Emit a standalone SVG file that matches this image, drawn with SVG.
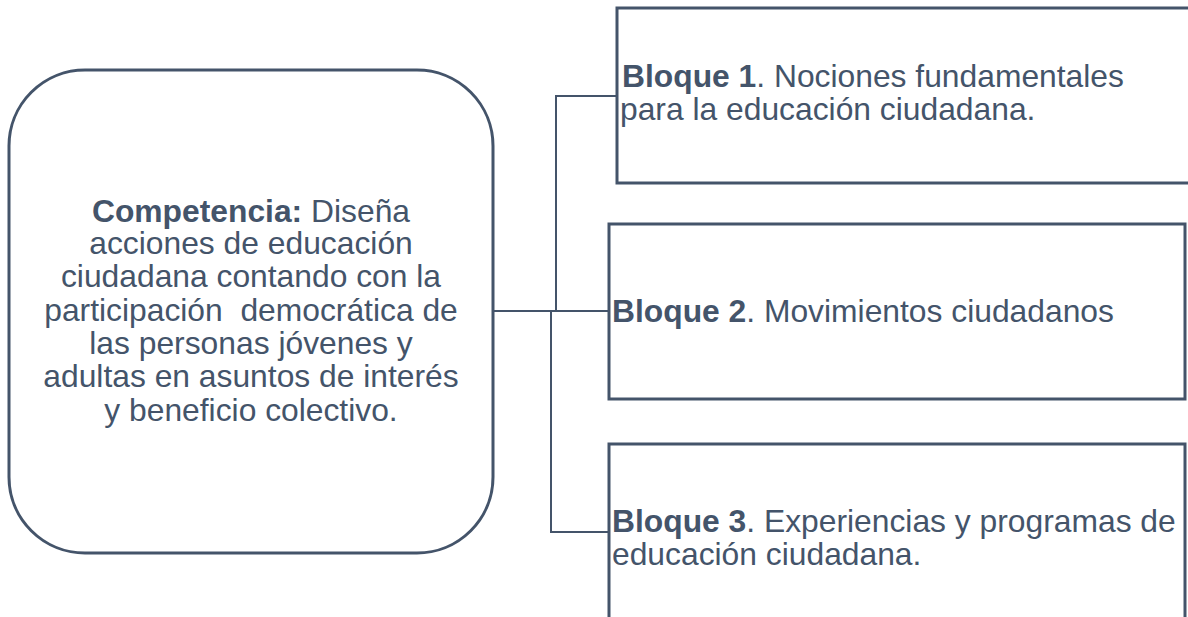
<svg xmlns="http://www.w3.org/2000/svg" width="1188" height="617" viewBox="0 0 1188 617">
<style>
.box{fill:#fff;stroke:#44546A;stroke-width:3}
.con{fill:none;stroke:#44546A;stroke-width:2}
text{font-family:"Liberation Sans",Arial,sans-serif;font-size:31.8px;fill:#44546A}
.b{font-weight:bold}
</style>
<rect width="1188" height="617" fill="#fff"/>
<g id="connectors">
<path class="con" d="M493,311 H608"/>
<path class="con" d="M556,311 V96 H617"/>
<path class="con" d="M551,311 V532 H608"/>
</g>
<g id="competencia">
<rect class="box" x="9" y="70" width="484" height="483" rx="76" ry="76"/>
<text text-anchor="middle" xml:space="preserve"><tspan x="251" y="222"><tspan class="b">Competencia:</tspan> Diseña</tspan><tspan x="251" y="254">acciones de educación</tspan><tspan x="251" y="287">ciudadana contando con la</tspan><tspan x="251" y="321">participación  democrática de</tspan><tspan x="251" y="354">las personas jóvenes y</tspan><tspan x="251" y="387">adultas en asuntos de interés</tspan><tspan x="251" y="421">y beneficio colectivo.</tspan></text>
</g>
<g id="bloque1">
<rect class="box" x="617" y="8" width="620" height="175"/>
<text><tspan x="622" y="87"><tspan class="b">Bloque 1</tspan>. Nociones fundamentales</tspan><tspan x="620" y="120">para la educación ciudadana.</tspan></text>
</g>
<g id="bloque2">
<rect class="box" x="609" y="224" width="576" height="175"/>
<text x="612" y="322"><tspan class="b">Bloque 2</tspan>. Movimientos ciudadanos</text>
</g>
<g id="bloque3">
<rect class="box" x="609" y="444" width="576" height="200"/>
<text><tspan x="612" y="532"><tspan class="b">Bloque 3</tspan>. Experiencias y programas de</tspan><tspan x="612" y="565">educación ciudadana.</tspan></text>
</g>
</svg>
